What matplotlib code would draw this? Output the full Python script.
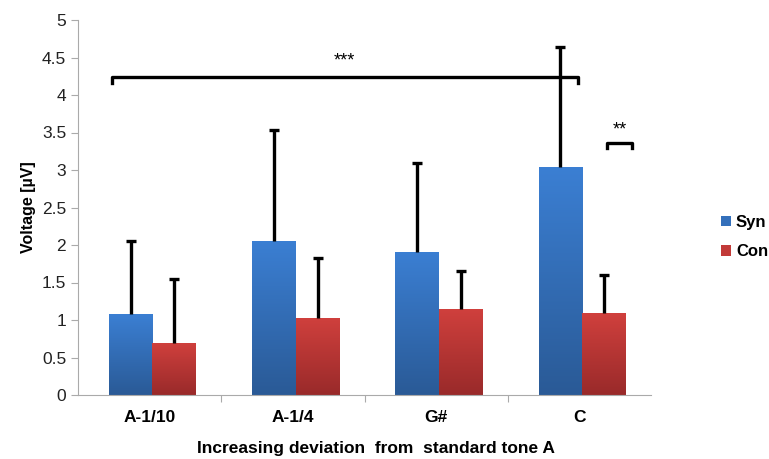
import matplotlib
matplotlib.use("Agg")
import matplotlib.pyplot as plt
import numpy as np
from matplotlib.colors import LinearSegmentedColormap
from matplotlib.patches import Patch

categories = ["A-1/10", "A-1/4", "G#", "C"]
syn_values = [1.08, 2.06, 1.91, 3.04]
con_values = [0.70, 1.03, 1.15, 1.09]
syn_err = [0.98, 1.47, 1.18, 1.60]
con_err = [0.85, 0.80, 0.51, 0.51]
yticks = [0, 0.5, 1, 1.5, 2, 2.5, 3, 3.5, 4, 4.5, 5]
ytick_labels = ["0", "0.5", "1", "1.5", "2", "2.5", "3", "3.5", "4", "4.5", "5"]

plt.rcParams['font.family'] = ['Liberation Sans', 'DejaVu Sans']

fig = plt.figure(figsize=(7.69, 4.59), dpi=100)
ax = fig.add_axes([78/769, 64/459, (651-78)/769, (395-20)/459])

x = np.arange(len(categories))
w = 0.305
off = 0.02

blue_cmap = LinearSegmentedColormap.from_list("b", ["#2a5a96", "#3b7fd3"])
red_cmap = LinearSegmentedColormap.from_list("r", ["#992a2a", "#d0403d"])

grad = np.linspace(0, 1, 256).reshape(-1, 1)

def gbar(xs, vals, cmap, face):
    bars = ax.bar(xs, vals, w, color=face, edgecolor='none', zorder=2)
    for b in bars:
        x0, y0 = b.get_x(), b.get_y()
        x1, y1 = x0 + b.get_width(), y0 + b.get_height()
        im = ax.imshow(grad, cmap=cmap, extent=[x0, x1, y0, y1], origin='lower',
                       aspect='auto', zorder=2.1)
        im.set_clip_path(b)
    return bars

gbar(x + off - w/2, syn_values, blue_cmap, "#3470bb")
gbar(x + off + w/2, con_values, red_cmap, "#b83636")

for xs, vals, errs in [(x + off - w/2, syn_values, syn_err), (x + off + w/2, con_values, con_err)]:
    _, caps, _ = ax.errorbar(xs, vals, yerr=[np.zeros(4), errs], fmt='none',
                             ecolor='black', elinewidth=2.4, capsize=3.5, capthick=2.4, zorder=3)
    caps[0].set_visible(False)

ax.set_xlim(-0.5, 3.5)
ax.set_ylim(0, 5)
ax.set_yticks(yticks)
ax.set_yticklabels(ytick_labels, fontsize=12.5, color='#222222')
ax.set_xticks([0.5, 1.5, 2.5])
ax.set_xticklabels([])
ax.tick_params(axis='x', length=5, color='#aaaaaa', direction='out')
ax.tick_params(axis='y', length=5, color='#aaaaaa', direction='out')
for i, c in enumerate(categories):
    ax.text(i, -0.2, c, ha='center', va='top', fontsize=12.5, fontweight='bold')

for s in ['top', 'right']:
    ax.spines[s].set_visible(False)
ax.spines['left'].set_color('#aaaaaa')
ax.spines['bottom'].set_color('#aaaaaa')

ax.set_ylabel("Voltage [µV]", fontsize=11.5, fontweight='bold', labelpad=4)
fig.text(376/769, 1 - 449/459, "Increasing deviation  from  standard tone A",
         ha='center', va='center', fontsize=12.5, fontweight='bold')

# significance brackets
ax.plot([-0.263, -0.263, 2.99, 2.99],
        [4.16, 4.24, 4.24, 4.16], color='black', lw=2.4, zorder=4, clip_on=False)
ax.text(1.36, 4.45, "***", ha='center', va='center', fontsize=13)
ax.plot([3.19, 3.19, 3.37, 3.37],
        [3.29, 3.36, 3.36, 3.29], color='black', lw=2.4, zorder=4)
ax.text(3.28, 3.53, "**", ha='center', va='center', fontsize=13)

handles = [Patch(facecolor="#3470bb"), Patch(facecolor="#c23a38")]
fig.legend(handles, ["Syn", "Con"], loc='center left', bbox_to_anchor=(721/769, 1 - 237/459),
           frameon=False, prop={'weight': 'bold', 'size': 12}, handlelength=0.6,
           handleheight=0.6, handletextpad=0.3, labelspacing=0.85, borderpad=0, borderaxespad=0)

fig.savefig("out.png", dpi=100)
